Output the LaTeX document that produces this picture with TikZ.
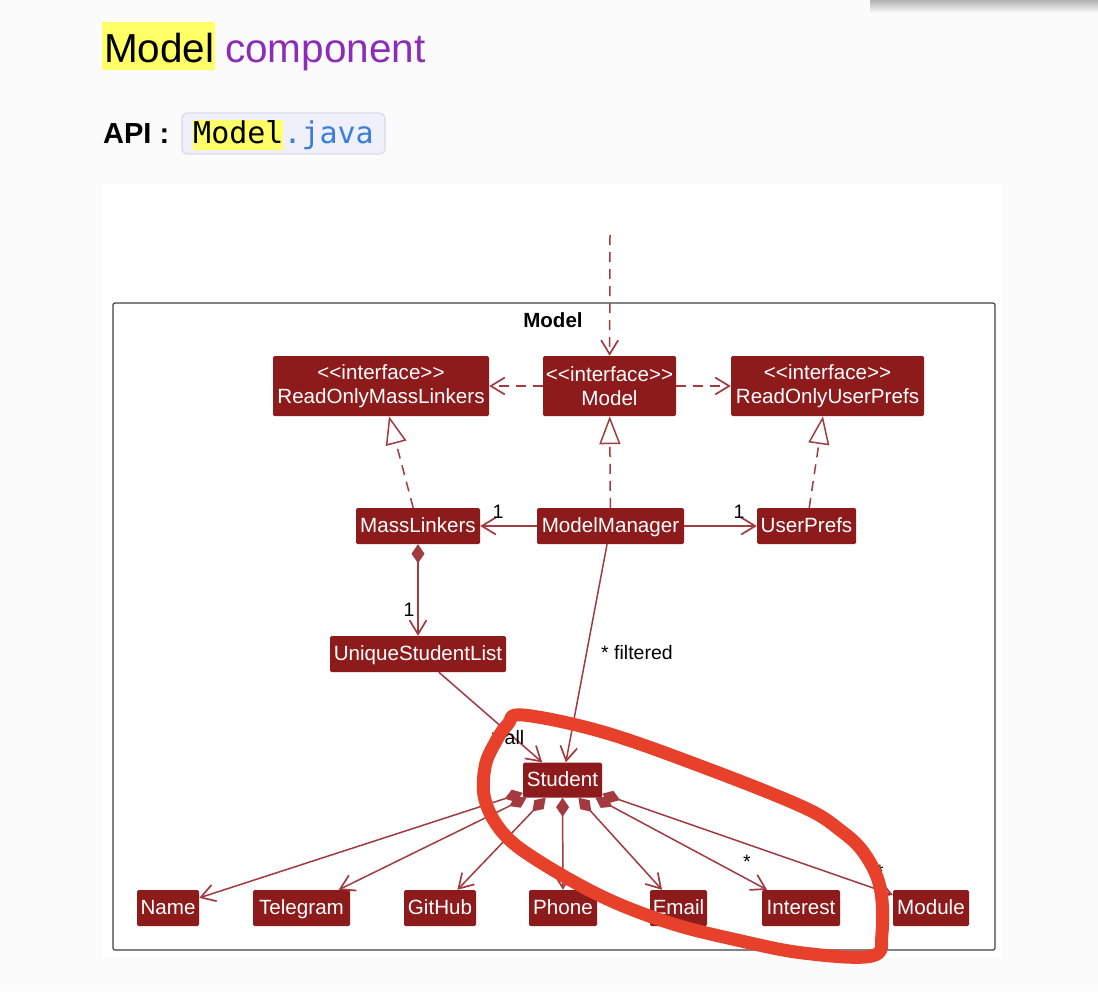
\documentclass[tikz,border=0pt]{standalone}
\usepackage{fontspec}
\setmainfont{Liberation Sans}
\newfontfamily\codefont{DejaVu Sans Mono}
\usetikzlibrary{arrows.meta}
\definecolor{nodered}{HTML}{8E1B1C}
\definecolor{edgered}{HTML}{A23A3F}
\definecolor{loopred}{HTML}{E8412B}
\definecolor{hl}{HTML}{FFFF66}
\definecolor{purp}{HTML}{8B2DB8}
\definecolor{codebg}{HTML}{EFF0FA}
\definecolor{codeborder}{HTML}{DADBE6}
\definecolor{javablue}{HTML}{3B7DDD}
\definecolor{pagebg}{HTML}{FBFBFB}
\begin{document}
\begin{tikzpicture}[x=1pt,y=-1pt,
 cls/.style={fill=nodered, text=white, draw=none, rounded corners=1.5pt, inner sep=0pt,
   minimum height=36pt, font=\fontsize{20.6}{24}\selectfont, align=center},
 one/.style={cls, text height=16pt, text depth=2.6pt},
 umlline/.style={draw=edgered, line width=1.5pt},
 depline/.style={umlline, dash pattern=on 10pt off 7pt},
 veetip/.style={-{Straight Barb[length=14pt,width=17pt,line width=1.7pt]}},
 realtip/.style={-{Triangle[length=28pt,width=21pt,fill=white]}},
 comptip/.style={{Diamond[length=19pt,width=13pt]}-{Straight Barb[length=14pt,width=17pt,line width=1.7pt]}},
 lbl/.style={font=\fontsize{19.5}{22}\selectfont, text=black, inner sep=0pt},
]
\useasboundingbox (0,0) rectangle (1098,991);
\fill[pagebg] (0,0) rectangle (1098,991);
\shade[top color=black!30, bottom color=pagebg] (870,0) rectangle (1098,13);
\fill[white] (102,185) rectangle (1002,958);

% heading
\fill[hl] (102,22) rectangle (215,70);
\node[anchor=base west, inner sep=0pt, font=\fontsize{40.5}{48}\selectfont] (h1) at (104,62) {Model};
\node[anchor=base west, inner sep=0pt, text=purp, font=\fontsize{40.5}{48}\selectfont] (h2) at (225,62) {component};
\node[anchor=base west, inner sep=0pt, font=\bfseries\fontsize{29}{34}\selectfont] (api) at (103,143) {API :};
\draw[fill=codebg, draw=codeborder, line width=1.2pt, rounded corners=5pt] (182,113) rectangle (385,154);
\fill[hl] (193,120) rectangle (283,150);
\node[anchor=base west, inner sep=0pt, font=\codefont\fontsize{30}{34}\selectfont] (code) at (193,143) {Model\textcolor{javablue}{.java}};

% frame
\draw[draw=black!75, line width=1.2pt, rounded corners=2pt] (113,303) rectangle (995,950);
\node[font=\bfseries\fontsize{20.5}{24}\selectfont, inner sep=0pt] (ft) at (553,320) {Model};

% nodes
\node[cls, minimum width=216pt, minimum height=60pt] (rml) at (381,386) {<\kern0pt<interface>\kern0pt>\\ReadOnlyMassLinkers};
\node[cls, minimum width=133pt, minimum height=60pt] (mdl) at (609.5,386) {<\kern0pt<interface>\kern0pt>\\Model};
\node[cls, minimum width=193pt, minimum height=60pt] (rup) at (827.5,386) {<\kern0pt<interface>\kern0pt>\\ReadOnlyUserPrefs};
\node[one, minimum width=124pt] (ml) at (418,526) {MassLinkers};
\node[one, minimum width=147pt] (mm) at (610.5,526) {ModelManager};
\node[one, minimum width=99pt] (up) at (806.5,526) {UserPrefs};
\node[one, minimum width=176pt] (usl) at (418,654) {UniqueStudentList};
\node[one, minimum width=79pt, minimum height=35pt] (stu) at (562.5,780) {Student};
\node[one, minimum width=62pt] (name) at (168,908) {Name};
\node[one, minimum width=97pt] (tel) at (301.5,908) {Telegram};
\node[one, minimum width=72pt] (gh) at (440,908) {GitHub};
\node[one, minimum width=68pt] (ph) at (563,908) {Phone};
\node[one, minimum width=57pt] (em) at (678.5,908) {Email};
\node[one, minimum width=78pt] (int) at (801,908) {Interest};
\node[one, minimum width=76pt] (mod) at (931,908) {Module};

% connectors
\coordinate (ext) at (610,235);
\draw[depline, veetip] (ext) -- (mdl);
\draw[depline, veetip] (mdl) -- (rml);
\draw[depline, veetip] (mdl) -- (rup);
\draw[depline, realtip] (ml) -- (rml);
\draw[depline, realtip] (mm) -- (mdl);
\draw[depline, realtip] (up) -- (rup);
\draw[umlline, veetip] (mm) -- (ml);
\draw[umlline, veetip] (mm) -- (up);
\draw[umlline, comptip] (ml) -- (usl);
\draw[umlline, veetip] (usl) -- (stu);
\draw[umlline, veetip] (mm) -- (stu);
\foreach \t in {name,tel,gh,ph,em,int,mod}{\draw[umlline, comptip] (stu) -- (\t);}

% labels
\node[lbl] (l1) at (498,512) {1};
\node[lbl] (l2) at (739,512) {1};
\node[lbl] (l3) at (409,610) {1};
\node[lbl] (l4) at (637,653) {* filtered};
\node[lbl] (l5) at (508,738) {* all};
\node[lbl] (l6) at (747,862) {*};
\node[lbl] (l7) at (880,872) {*};

% hand-drawn loop
\draw[loopred, line width=13pt, line cap=round, line join=round]
  plot[smooth cycle, tension=0.6] coordinates {
  (523,715) (603,732) (703,767) (803,807) (840,830) (864,853) (880,887) (882,933)
  (872,956) (803,953) (737,940) (670,923) (603,897) (537,860) (503,833) (485,800)
  (485,767) (495,743) (508,724)};
\end{tikzpicture}
\end{document}
